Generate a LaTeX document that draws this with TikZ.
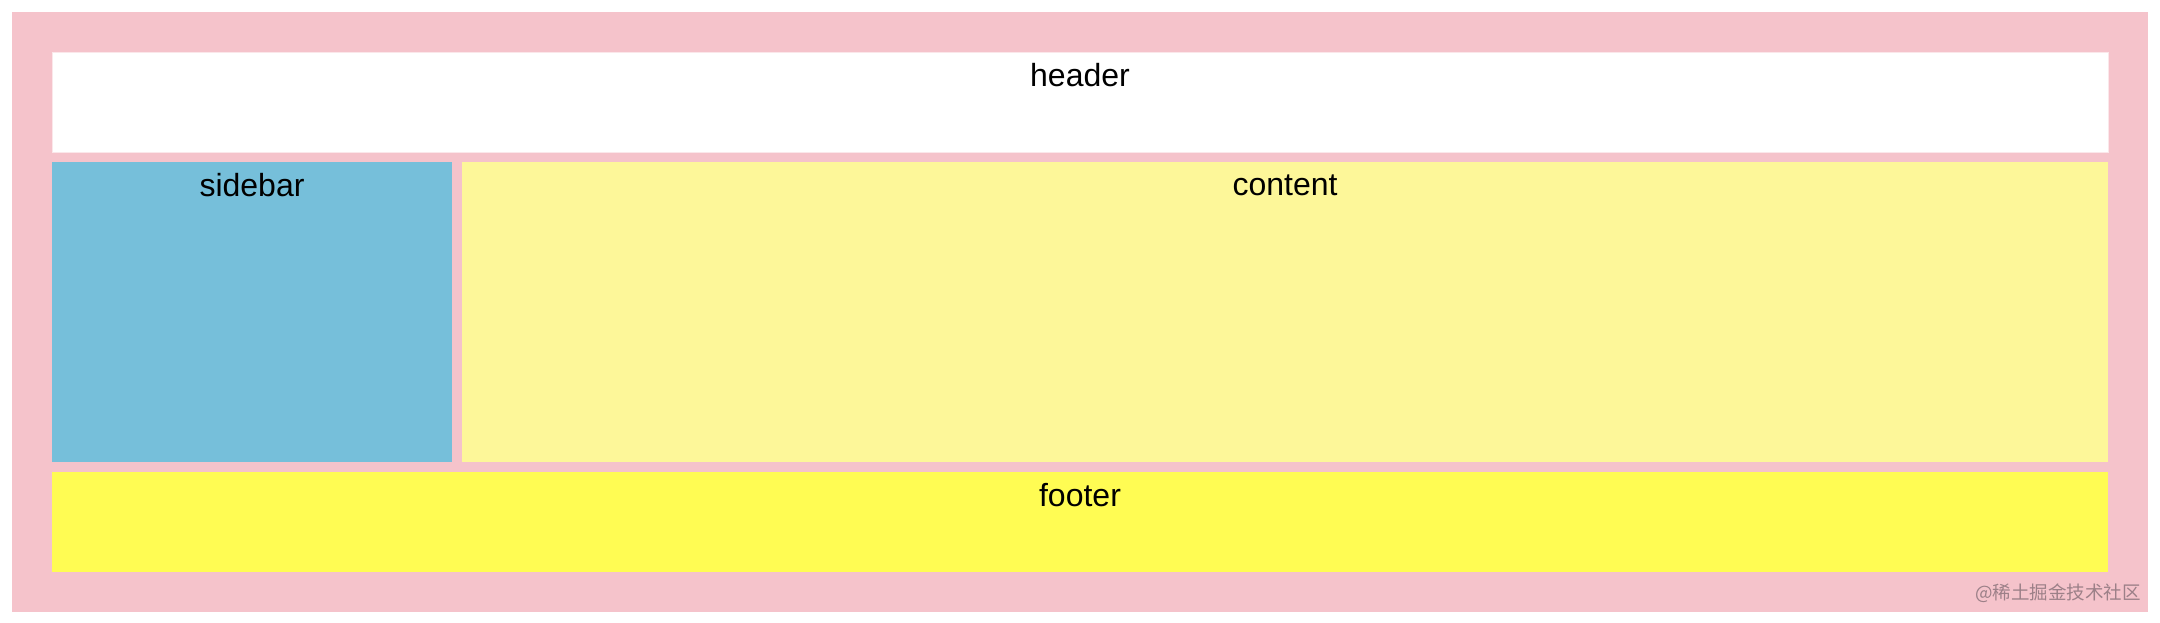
\documentclass[tikz,border=0pt]{standalone}
\usepackage{fontspec}
\setmainfont{Liberation Sans}
\newfontfamily\cjk{Noto Sans CJK SC}
\definecolor{pinkbg}{HTML}{F5C3CB}
\definecolor{sideblue}{HTML}{76BFDA}
\definecolor{paleyellow}{HTML}{FDF799}
\definecolor{footyellow}{HTML}{FFFC53}
\definecolor{wmgray}{HTML}{9C8088}
\begin{document}
\begin{tikzpicture}[x=1pt,y=-1pt,
  lbl/.style={font=\fontsize{32}{38}\selectfont,text=black,inner sep=0pt}]
\useasboundingbox (0,0) rectangle (2160,622);
\fill[white] (0,0) rectangle (2160,622);
\fill[pinkbg] (12,12) rectangle (2148,612);
% areas
\fill[white,draw=pinkbg!40] (52,52) rectangle (2108,152);
\fill[sideblue] (52,162) rectangle (452,462);
\fill[paleyellow] (462,162) rectangle (2108,462);
\fill[footyellow] (52,472) rectangle (2108,572);
% labels
\node[lbl] (header) at (1080,75) {header};
\node[lbl] (sidebar) at (252,185) {sidebar};
\node[lbl] (content) at (1285,185) {content};
\node[lbl] (footer) at (1080,495) {footer};
% watermark
\node[anchor=east,inner sep=0pt,text=wmgray,font=\cjk\fontsize{18.5}{22}\selectfont] (wm) at (2141,593) {@稀土掘金技术社区};
\end{tikzpicture}
\end{document}
